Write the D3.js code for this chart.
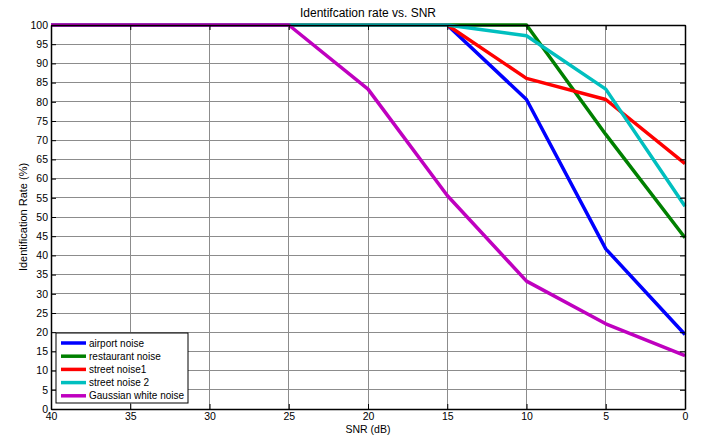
<!DOCTYPE html>
<html>
<head>
<meta charset="utf-8">
<script src="https://cdn.jsdelivr.net/npm/d3@7"></script>
<style>
  body { margin: 0; background: #fff; }
  svg { display: block; font-family: "Liberation Sans", Arial, sans-serif; }
</style>
</head>
<body>
<svg id="chart" width="702" height="436"></svg>
<script>
// SNR levels (dB) and identification rates (%) per noise type
const snr = [40, 35, 30, 25, 20, 15, 10, 5, 0];
const airport    = [100, 100, 100, 100, 100, 100, 80.6, 41.7, 19.4];
const restaurant = [100, 100, 100, 100, 100, 100, 100, 71.5, 44.6];
const street1    = [100, 100, 100, 100, 100, 100, 86.1, 80.6, 63.9];
const street2    = [100, 100, 100, 100, 100, 100, 97.2, 83.3, 52.8];
const gaussian   = [100, 100, 100, 100, 83.3, 55.6, 33.3, 22.2, 13.9];

const seriesNames  = ["airport noise", "restaurant noise", "street noise1", "street noise 2", "Gaussian white noise"];
const seriesValues = [airport, restaurant, street1, street2, gaussian];
const seriesColors = ["#0000ff", "#008000", "#ff0000", "#00bfbf", "#bf00bf"];

const xTicks = [40, 35, 30, 25, 20, 15, 10, 5, 0];
const yTicks = d3.range(0, 101, 5);

const svg = d3.select("#chart");
const m = { left: 51, right: 17, top: 25, bottom: 27 };
const W = 702, H = 436;
const x = d3.scaleLinear().domain([40, 0]).range([m.left, W - m.right]);
const y = d3.scaleLinear().domain([0, 100]).range([H - m.bottom, m.top]);

// grid
const grid = svg.append("g").attr("stroke", "#8c8c8c").attr("stroke-width", 1).attr("shape-rendering", "crispEdges");
grid.selectAll(".gx").data(xTicks).join("line")
  .attr("x1", d => x(d)).attr("x2", d => x(d)).attr("y1", y(0)).attr("y2", y(100));
grid.selectAll(".gy").data(yTicks).join("line")
  .attr("y1", d => y(d)).attr("y2", d => y(d)).attr("x1", x(40)).attr("x2", x(0));

// data lines
const line = d3.line().x((d, i) => x(snr[i])).y(d => y(d));
svg.append("g").selectAll("path").data(seriesValues).join("path")
  .attr("d", d => line(d))
  .attr("fill", "none")
  .attr("stroke", (d, i) => seriesColors[i])
  .attr("stroke-width", 3.5)
  .attr("stroke-linejoin", "round");

// axes (inward ticks on all four sides)
const tick = 5;
const fmt = d3.format("d");
const axB = svg.append("g").attr("transform", `translate(0,${y(0)})`)
  .call(d3.axisBottom(x).tickValues(xTicks).tickFormat(fmt).tickSizeInner(-tick).tickSizeOuter(0).tickPadding(4));
const axT = svg.append("g").attr("transform", `translate(0,${y(100)})`)
  .call(d3.axisTop(x).tickValues(xTicks).tickFormat("").tickSizeInner(-tick).tickSizeOuter(0));
const axL = svg.append("g").attr("transform", `translate(${x(40)},0)`)
  .call(d3.axisLeft(y).tickValues(yTicks).tickFormat(fmt).tickSizeInner(-tick).tickSizeOuter(0).tickPadding(3));
const axR = svg.append("g").attr("transform", `translate(${x(0)},0)`)
  .call(d3.axisRight(y).tickValues(yTicks).tickFormat("").tickSizeInner(-tick).tickSizeOuter(0));
[axB, axT, axL, axR].forEach(a => {
  a.select(".domain").attr("stroke", "#000").attr("stroke-width", 1.5);
  a.selectAll(".tick line").attr("stroke", "#000");
  a.selectAll("text").attr("fill", "#000").style("font-size", "10.5px").style("font-family", "Liberation Sans, Arial, sans-serif");
});

// titles
svg.append("text").attr("x", (x(40) + x(0)) / 2).attr("y", 17)
  .attr("text-anchor", "middle").style("font-size", "12px").text("Identifcation rate vs. SNR");
svg.append("text").attr("x", (x(40) + x(0)) / 2).attr("y", 433)
  .attr("text-anchor", "middle").style("font-size", "10.5px").text("SNR (dB)");
svg.append("text").attr("transform", `translate(27,${(y(0) + y(100)) / 2}) rotate(-90)`)
  .attr("text-anchor", "middle").style("font-size", "11px").text("Identification Rate (%)");

// legend
const lg = svg.append("g").attr("transform", "translate(56,333)");
lg.append("rect").attr("width", 132).attr("height", 70)
  .attr("fill", "#fff").attr("stroke", "#000").attr("stroke-width", 1);
const items = lg.selectAll(".item").data(seriesNames).join("g")
  .attr("transform", (d, i) => `translate(0,${10 + i * 13.2})`);
items.append("line").attr("x1", 5).attr("x2", 30).attr("y1", 0).attr("y2", 0)
  .attr("stroke", (d, i) => seriesColors[i]).attr("stroke-width", 3.5);
items.append("text").attr("x", 33).attr("y", 0).attr("dy", "0.35em")
  .style("font-size", "10px").text(d => d);
</script>
</body>
</html>
